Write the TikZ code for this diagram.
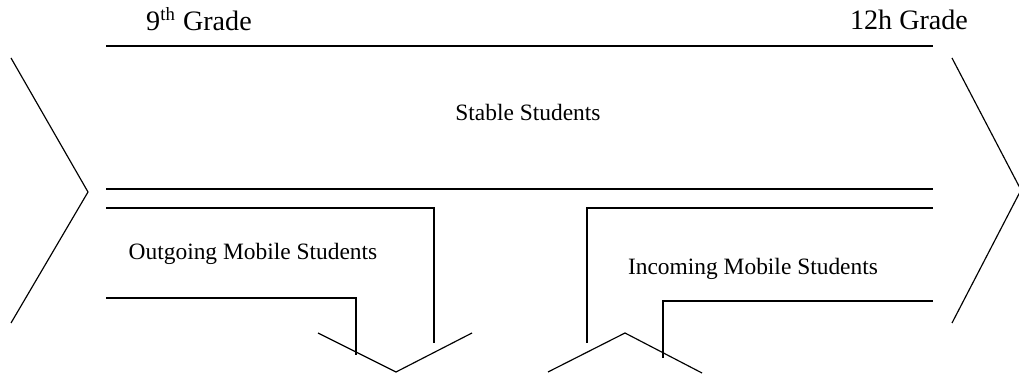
\documentclass[tikz,border=0pt]{standalone}
\usepackage{fontspec}
\setmainfont{Liberation Serif}
\begin{document}
\begin{tikzpicture}[x=0.015cm,y=-0.015cm,line width=0.5pt]
      \useasboundingbox (0,0) rectangle (1019,375);%

      % left and right chevrons
      \draw (11,58) -- (88,192) -- (11,323);%
      \draw (952,58) -- (1021,190) -- (952,323);%

      % stable band
      \draw (106,46) -- (933,46);%
      \draw (106,189) -- (933,189);%

      % outgoing band
      \draw (106,208) -- (434,208) -- (434,343);%
      \draw (106,298) -- (356,298) -- (356,355);%
      \draw (318,333) -- (396,372) -- (472,333);%

      % incoming band
      \draw (587,343) -- (587,208) -- (933,208);%
      \draw (663,358) -- (663,301) -- (933,301);%
      \draw (548,372) -- (625,333) -- (702,373);%

      \node[font=\fontsize{12}{14}\selectfont] (G9) at (199,19) {9\textsuperscript{th} Grade};%
      \node[font=\fontsize{12}{14}\selectfont] (G12) at (909,20) {12h Grade};%
      \node[font=\fontsize{10}{12}\selectfont] (SS) at (528,112) {Stable Students};%
      \node[font=\fontsize{10}{12}\selectfont] (OMS) at (253,254) {Outgoing Mobile Students};%
      \node[font=\fontsize{10}{12}\selectfont] (IMS) at (753,269) {Incoming Mobile Students};%
\end{tikzpicture}
\end{document}
